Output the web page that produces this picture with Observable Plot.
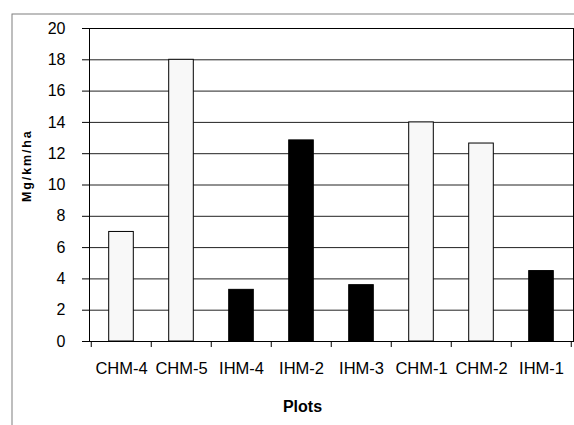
<!DOCTYPE html>
<html>
<head>
<meta charset="utf-8">
<script src="https://cdn.jsdelivr.net/npm/d3@7"></script>
<script src="https://cdn.jsdelivr.net/npm/@observablehq/plot@0.6"></script>
<style>
  html, body { margin: 0; padding: 0; background: #fff; }
  #chart svg { overflow: hidden; }
</style>
</head>
<body>
<div id="chart"></div>
<script>
const categories = ["CHM-4", "CHM-5", "IHM-4", "IHM-2", "IHM-3", "CHM-1", "CHM-2", "IHM-1"];
const values = [7.0, 18.0, 3.3, 12.85, 3.6, 14.0, 12.65, 4.5];
const groups = ["CHM", "CHM", "IHM", "IHM", "IHM", "CHM", "CHM", "IHM"];
const yTicks = [0, 2, 4, 6, 8, 10, 12, 14, 16, 18, 20];
const yTitle = "M g / k m / h a";
const xTitle = "Plots";

const data = categories.map((c, i) => ({plot: c, value: values[i], group: groups[i]}));

const W = 574, H = 425;
const mL = 89, mR = 1, mT = 28, mB = 84;
const bw = (W - mL - mR) / categories.length;
const font = "Liberation Sans, Arial, sans-serif";

const chart = Plot.plot({
  width: W,
  height: H,
  marginLeft: mL,
  marginRight: mR,
  marginTop: mT,
  marginBottom: mB,
  style: {fontFamily: font, background: "#fff", color: "#000"},
  x: {domain: categories, padding: 0, axis: null},
  y: {domain: [0, 20], axis: null},
  color: {domain: ["CHM", "IHM"], range: ["#f8f8f8", "#000000"]},
  marks: [
    Plot.frame({stroke: "#7f7f7f", insetLeft: -(mL - 11.5), insetTop: -(mT - 13.5), insetRight: -40, insetBottom: -200}),
    Plot.gridY(yTicks, {stroke: "#222", strokeOpacity: 1}),
    Plot.barY(data, {x: "plot", y: "value", fill: "group", stroke: "#000", strokeWidth: 1, insetLeft: 17.7, insetRight: 17.7}),
    Plot.frame({stroke: "#000"}),
    Plot.axisY(yTicks, {tickSize: 7, tickPadding: 17, fontSize: 16, label: null, stroke: "#000"}),
    Plot.axisX({tickSize: 0, tickPadding: 21, fontSize: 16.5, label: null}),
    Plot.ruleX(categories, {x: d => d, y1: 0, y2: 0, dx: -bw / 2, insetBottom: -6, stroke: "#000"}),
    Plot.ruleX(categories.slice(-1), {x: d => d, y1: 0, y2: 0, dx: bw / 2 - 0.5, insetBottom: -6, stroke: "#000"}),
    Plot.text([yTitle], {frameAnchor: "left", rotate: -90, dx: -63, dy: -18, fontSize: 12.5, fontWeight: "bold", textAnchor: "middle", lineAnchor: "middle"}),
    Plot.text([xTitle], {frameAnchor: "bottom", dx: -29, dy: 65, fontSize: 16, fontWeight: "bold", textAnchor: "middle", lineAnchor: "middle"})
  ]
});
d3.select(chart).selectAll("text").filter(function() { return this.textContent === yTitle; }).attr("letter-spacing", "-0.8px");
document.getElementById("chart").appendChild(chart);
</script>
</body>
</html>
